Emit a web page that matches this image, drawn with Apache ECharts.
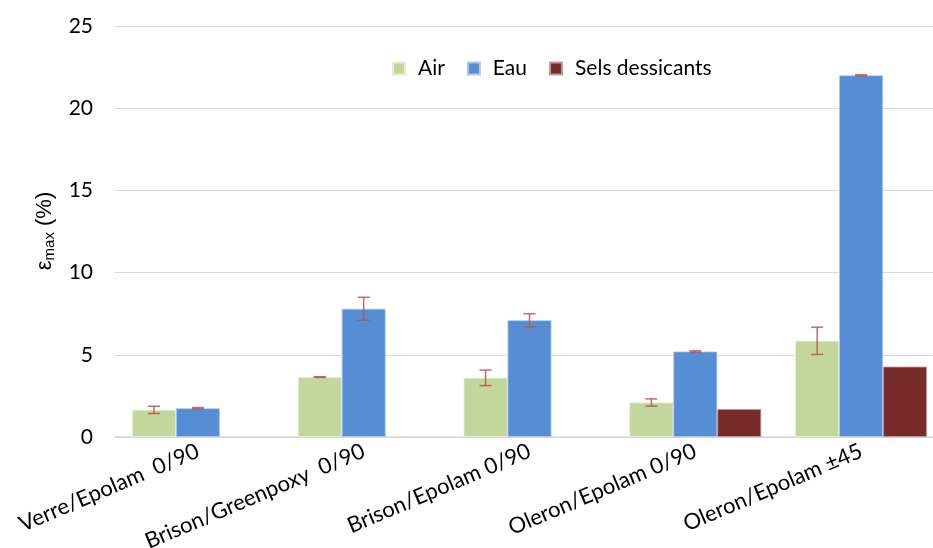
<!DOCTYPE html>
<html><head><meta charset="utf-8">
<script src="https://cdn.jsdelivr.net/npm/echarts@6/dist/echarts.min.js"></script>
<style>html,body{margin:0;padding:0;background:#fff}#c{width:933px;height:548px}</style>
</head><body><div id="c"></div>
<script>
var categories = ['Verre/Epolam  0/90', 'Brison/Greenpoxy  0/90', 'Brison/Epolam 0/90', 'Oleron/Epolam 0/90', 'Oleron/Epolam \u00b145'];
var seriesNames = ['Air', 'Eau', 'Sels dessicants'];
var air = [1.65, 3.65, 3.6, 2.1, 5.85];
var eau = [1.75, 7.8, 7.1, 5.2, 22.0];
var sels = [null, null, null, 1.7, 4.28];
var airErr = [0.22, 0.02, 0.47, 0.22, 0.83];
var eauErr = [0.04, 0.7, 0.4, 0.04, 0.03];
var yTicks = [0, 5, 10, 15, 20, 25];

var FONT = 'Lato';
var BAR_FRAC = 0.265;
var colors = ['#C3D69B', '#558ED5', '#772C2A'];

function errSeries(vals, errs, slot) {
  var data = vals.map(function (v, i) { return [i, v, errs[i]]; });
  return {
    type: 'custom', z: 10, silent: true,
    data: data,
    renderItem: function (params, api) {
      var i = api.value(0), v = api.value(1), e = api.value(2);
      var band = api.size([1, 0])[0];
      var off = (slot - 1) * band * BAR_FRAC;
      var top = api.coord([i, v + e]);
      var bot = api.coord([i, v - e]);
      var x = top[0] + off;
      var cap = 6;
      var st = { stroke: '#C0504D', lineWidth: 1.5, opacity: 0.85 };
      return { type: 'group', children: [
        { type: 'line', shape: { x1: x, y1: top[1], x2: x, y2: bot[1] }, style: st },
        { type: 'line', shape: { x1: x - cap, y1: top[1], x2: x + cap, y2: top[1] }, style: st },
        { type: 'line', shape: { x1: x - cap, y1: bot[1], x2: x + cap, y2: bot[1] }, style: st }
      ]};
    }
  };
}

var chart = echarts.init(document.getElementById('c'));
chart.setOption({
  animation: false,
  textStyle: { fontFamily: FONT },
  legend: {
    data: seriesNames, top: 53, left: 387,
    itemWidth: 12, itemHeight: 12, itemGap: 22,
    icon: 'rect',
    textStyle: { fontSize: 21, color: '#000', fontFamily: FONT, padding: [0, 0, 0, 8] }
  },
  grid: { left: 115, width: 829, top: 26, bottom: 111, outerBoundsMode: 'none', containLabel: false },
  graphic: [{
    type: 'text', rotation: Math.PI / 2,
    x: 45, y: 231,
    style: {
      text: '{e|\u03b5}{s|max}{e| (%)}',
      fill: '#000', align: 'center', verticalAlign: 'middle',
      font: '22px Lato',
      rich: {
        e: { font: '22px Lato', fontSize: 22, fill: '#000' },
        s: { font: '15px Lato', fontSize: 15, fill: '#000', padding: [10, 0, 0, 0] }
      }
    }
  }],
  xAxis: {
    type: 'category', data: categories,
    axisLine: { lineStyle: { color: '#d9d9d9', width: 1.5 } },
    axisTick: { show: false },
    axisLabel: { rotate: 23, fontSize: 22, color: '#000', fontFamily: FONT, margin: 13, interval: 0 }
  },
  yAxis: {
    type: 'value', min: yTicks[0], max: yTicks[yTicks.length - 1], interval: 5,
    axisLine: { show: false }, axisTick: { show: false },
    splitLine: { lineStyle: { color: '#d9d9d9', width: 1.2 } },
    axisLabel: { fontSize: 21, color: '#000', fontFamily: FONT, margin: 22 }
  },
  series: [
    { name: seriesNames[0], type: 'bar', data: air, barWidth: (BAR_FRAC * 100) + '%', barGap: '0%',
      itemStyle: { color: colors[0], borderColor: '#e6eed4', borderWidth: 0.8 } },
    { name: seriesNames[1], type: 'bar', data: eau, barWidth: (BAR_FRAC * 100) + '%', barGap: '0%',
      itemStyle: { color: colors[1], borderColor: '#b0c9ea', borderWidth: 0.8 } },
    { name: seriesNames[2], type: 'bar', data: sels, barWidth: (BAR_FRAC * 100) + '%', barGap: '0%',
      itemStyle: { color: colors[2], borderColor: '#c09a99', borderWidth: 0.8 } },
    errSeries(air, airErr, 0),
    errSeries(eau, eauErr, 1)
  ]
});
</script></body></html>
